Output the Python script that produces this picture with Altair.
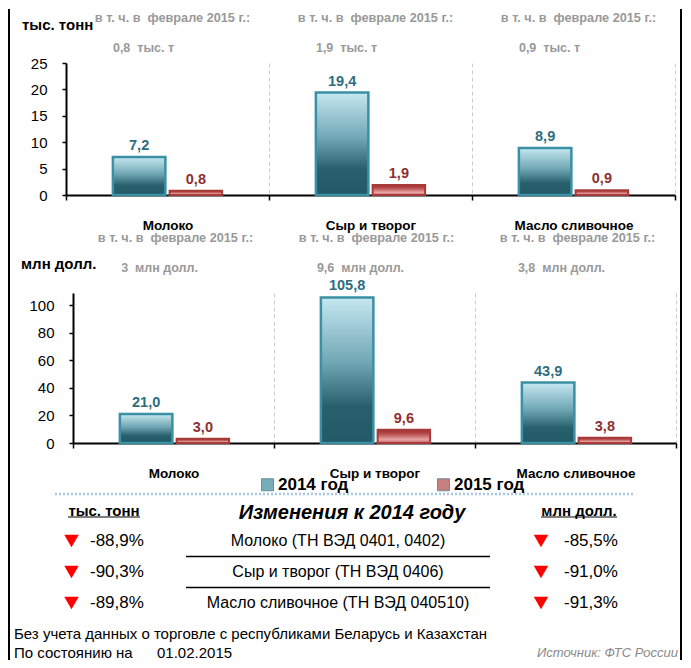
import altair as alt
import pandas as pd

FONT = "Liberation Sans, Arial, sans-serif"

categories = ["Молоко", "Сыр и творог", "Масло сливочное"]
years = ["2014 год", "2015 год"]
tons_2014 = [7.2, 19.4, 8.9]
tons_2015 = [0.8, 1.9, 0.9]
usd_2014 = [21.0, 105.8, 43.9]
usd_2015 = [3.0, 9.6, 3.8]
feb_tons = ["0,8", "1,9", "0,9"]
feb_usd = ["3", "9,6", "3,8"]
header_text = "в т. ч. в \u00a0феврале 2015 г.:"
table_labels = ["Молоко (ТН ВЭД 0401, 0402)", "Сыр и творог (ТН ВЭД 0406)",
                "Масло сливочное (ТН ВЭД 040510)"]
chg_tons = ["-88,9%", "-90,3%", "-89,8%"]
chg_usd = ["-85,5%", "-91,0%", "-91,3%"]
row_order = [0, 1, 2]
row_bounds = [0.5, 1.5]

C14_STROKE = "#3a90a4"
C15_STROKE = "#a83a3a"
C14_TEXT = "#2d6d80"
C15_TEXT = "#8e2f2f"
GRAY = "#999999"

grad14 = alt.Gradient(gradient="linear", x1=0, x2=0, y1=0, y2=1, stops=[
    alt.GradientStop(offset=0, color="#c6e8f0"),
    alt.GradientStop(offset=0.45, color="#6fa6b4"),
    alt.GradientStop(offset=0.75, color="#275f6d"),
    alt.GradientStop(offset=1, color="#235a68")])
grad15 = alt.Gradient(gradient="linear", x1=0, x2=0, y1=0, y2=1, stops=[
    alt.GradientStop(offset=0, color="#9b3030"),
    alt.GradientStop(offset=0.3, color="#b84c4c"),
    alt.GradientStop(offset=0.75, color="#e6a4a4"),
    alt.GradientStop(offset=1, color="#c46060")])


def one(**kw):
    return pd.DataFrame({k: [v] for k, v in kw.items()})


def bar_section(v14, v15, feb, suffix, unit_label, ymax, yvals, height, width,
                shift, xo_outer, hdr_dx, amt_dx, hdr_y, amt_y, unit_y, unit_x,
                legend=False):
    bars = pd.DataFrame({"cat": categories * 2,
                         "year": [years[0]] * 3 + [years[1]] * 3,
                         "v": v14 + v15})
    heads = pd.DataFrame({"cat": categories, "feb": feb})
    xscale = alt.Scale(paddingInner=0, paddingOuter=0, rangeMin=shift) if shift else \
        alt.Scale(paddingInner=0, paddingOuter=0)
    xenc = alt.X("cat:N", sort=categories, scale=xscale, title=None,
                 axis=alt.Axis(domainColor="black", domainWidth=2, tickColor="black",
                               tickSize=5, tickWidth=1.5, tickBand="extent",
                               grid=True, gridDash=[4, 3], gridColor="#cccccc",
                               labelFontSize=13.5, labelFontWeight="bold",
                               labelColor="black", labelPadding=25,
                               labelBaseline="middle", labelAngle=0))
    xoff = alt.XOffset("year:N", sort=years,
                       scale=alt.Scale(domain=years, paddingInner=0.075,
                                       paddingOuter=xo_outer))
    yaxis = dict(values=yvals, domainColor="black", domainWidth=2, tickColor="black",
                 tickSize=4, tickWidth=1.5, labelFontSize=15, labelPadding=15,
                 labelColor="black", grid=False, title=None)
    if shift:
        yaxis["offset"] = -shift
    yenc = alt.Y("v:Q", scale=alt.Scale(domain=[0, ymax], nice=False),
                 axis=alt.Axis(**yaxis))
    base = alt.Chart(bars).transform_calculate(
        label="replace(format(datum.v, '.1f'), '.', ',')")
    layers = []
    for yr, grad, stroke, sw, tc in [(years[0], grad14, C14_STROKE, 2.5, C14_TEXT),
                                     (years[1], grad15, C15_STROKE, 2, C15_TEXT)]:
        b = base.transform_filter(alt.datum.year == yr)
        layers.append(b.mark_bar(fill=grad, stroke=stroke, strokeWidth=sw).encode(
            x=xenc, xOffset=xoff, y=yenc))
        layers.append(b.mark_text(dy=-11, fontSize=14.5, fontWeight="bold",
                                  color=tc).encode(
            x=xenc, xOffset=xoff, y=yenc, text="label:N"))
    hb = alt.Chart(heads)
    layers.append(hb.mark_text(dx=hdr_dx, fontSize=12.7, fontWeight="bold",
                               color=GRAY).encode(
        x=xenc, y=alt.value(hdr_y), text=alt.value(header_text)))
    layers.append(hb.transform_calculate(t="datum.feb + ' \u00a0' + '" + suffix + "'")
                  .mark_text(dx=amt_dx, fontSize=12.5, fontWeight="bold", color=GRAY)
                  .encode(x=xenc, y=alt.value(amt_y), text="t:N"))
    layers.append(alt.Chart(one(t=unit_label)).mark_text(
        align="left", fontSize=15, fontWeight="bold", color="black").encode(
        x=alt.value(unit_x), y=alt.value(unit_y), text="t:N"))
    if legend:
        layers.append(alt.Chart(bars).transform_filter("false").mark_square().encode(
            fill=alt.Fill("year:N", scale=alt.Scale(domain=years,
                                                    range=["#3f8a9c", "#b04848"]),
                          legend=alt.Legend(orient="none", legendX=193, legendY=413,
                                            direction="horizontal", title=None,
                                            labelFontSize=17, labelFontWeight="bold",
                                            labelColor="black", symbolType="square",
                                            symbolSize=144, symbolStrokeWidth=1,
                                            symbolStrokeColor="#2c6070",
                                            columnPadding=86, labelOffset=2,
                                            padding=0))))
    return alt.layer(*layers).properties(width=width, height=height)


s1 = bar_section(tons_2014, tons_2015, feb_tons, "тыс. т", "тыс. тонн", 25,
                 [0, 5, 10, 15, 20, 25], 132, 609, 0, 0.826, 5, -24,
                 -45, -15, -38, -44)
s2 = bar_section(usd_2014, usd_2015, feb_usd, "млн долл.", "млн долл.", 109,
                 [0, 20, 40, 60, 80, 100], 150, 610, 7, 0.808, 2, -14,
                 -55, -25, -29, -45, legend=True)

rows = pd.DataFrame({"row": row_order, "label": table_labels,
                     "ct": chg_tons, "cu": chg_usd})
seps = pd.DataFrame({"row": row_bounds})
yrow = alt.Y("row:Q", scale=alt.Scale(domain=[0, 2], reverse=True), axis=None)
rb = alt.Chart(rows)
dummy = alt.Chart(one(t=""))

t_layers = [
    dummy.mark_rule(color="#a9c6e6", strokeWidth=2.5, strokeDash=[2, 2]).encode(
        x=alt.value(-11), x2=alt.value(567), y=alt.value(-47)),
    alt.Chart(one(t="тыс. тонн")).mark_text(fontSize=15, fontWeight="bold").encode(
        x=alt.value(38), y=alt.value(-30), text="t:N"),
    alt.Chart(one(t="млн долл.")).mark_text(fontSize=15, fontWeight="bold").encode(
        x=alt.value(513), y=alt.value(-30), text="t:N"),
    dummy.mark_rule(color="black", strokeWidth=1.2).encode(
        x=alt.value(2), x2=alt.value(74), y=alt.value(-24)),
    dummy.mark_rule(color="black", strokeWidth=1.2).encode(
        x=alt.value(475), x2=alt.value(551), y=alt.value(-24)),
    alt.Chart(one(t="Изменения к 2014 году")).mark_text(
        fontSize=20, fontWeight="bold", fontStyle="italic").encode(
        x=alt.value(286), y=alt.value(-28), text="t:N"),
    rb.mark_point(shape="triangle-down", filled=True, color="#ff0000", size=210,
                  opacity=1).encode(x=alt.value(5.5), y=yrow),
    rb.mark_text(align="left", fontSize=17).encode(x=alt.value(24), y=yrow, text="ct:N"),
    rb.mark_text(fontSize=16).encode(x=alt.value(272), y=yrow, text="label:N"),
    rb.mark_point(shape="triangle-down", filled=True, color="#ff0000", size=210,
                  opacity=1).encode(x=alt.value(475), y=yrow),
    rb.mark_text(align="left", fontSize=17).encode(x=alt.value(498), y=yrow, text="cu:N"),
    alt.Chart(seps).mark_rule(color="black", strokeWidth=1.3).encode(
        x=alt.value(120), x2=alt.value(424), y=yrow),
    alt.Chart(one(t="Без учета данных о торговле с республиками Беларусь и Казахстан"))
    .mark_text(align="left", fontSize=15).encode(x=alt.value(-52), y=alt.value(93), text="t:N"),
    alt.Chart(one(t="По состоянию на")).mark_text(align="left", fontSize=15).encode(
        x=alt.value(-52), y=alt.value(112), text="t:N"),
    alt.Chart(one(t="01.02.2015")).mark_text(align="left", fontSize=15).encode(
        x=alt.value(91), y=alt.value(112), text="t:N"),
    alt.Chart(one(t="Источник: ФТС России")).mark_text(
        align="right", fontSize=13, fontStyle="italic", color="#8a8a8a").encode(
        x=alt.value(612), y=alt.value(112), text="t:N"),
    dummy.mark_rule(color="black", strokeWidth=2).encode(
        x=alt.value(-57), y=alt.value(-532), y2=alt.value(119)),
    dummy.mark_rule(color="black", strokeWidth=2).encode(
        x=alt.value(615), y=alt.value(-532), y2=alt.value(119)),
]
s3 = alt.layer(*t_layers).properties(width=609, height=62)

chart = alt.vconcat(s1, s2, s3, spacing=98, bounds="flush").properties(
    padding=0
).configure(font=FONT).configure_view(strokeWidth=0)

chart.save("out.html", embed_options={"renderer": "svg", "actions": False})
